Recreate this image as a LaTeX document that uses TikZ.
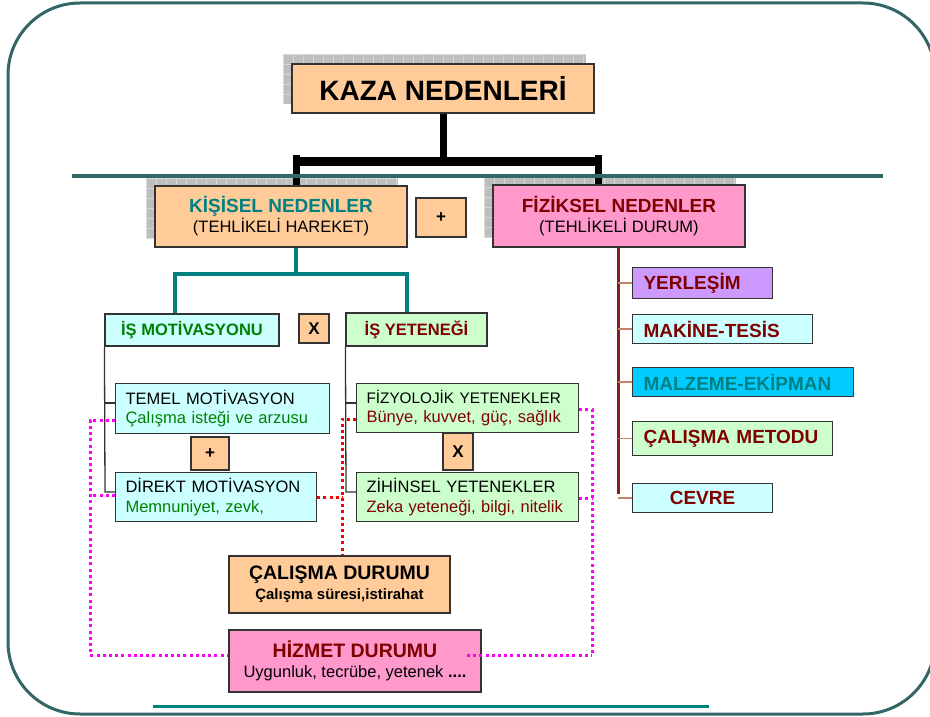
\documentclass[tikz,border=0pt]{standalone}
\usepackage{fontspec}
\setmainfont{Liberation Sans}
\usetikzlibrary{calc,backgrounds}
\hyphenpenalty=10000
\definecolor{cPeach}{HTML}{FFCC99}
\definecolor{cPink}{HTML}{FF99CC}
\definecolor{cCyanL}{HTML}{CCFFFF}
\definecolor{cGreenL}{HTML}{CCFFCC}
\definecolor{cLav}{HTML}{CC99FF}
\definecolor{cCyan}{HTML}{00CCFF}
\definecolor{cTeal}{HTML}{008080}
\definecolor{cDred}{HTML}{800000}
\definecolor{cGreen}{HTML}{008000}
\definecolor{cFrame}{HTML}{336666}
\definecolor{cLine}{HTML}{333333}
\definecolor{cShad}{HTML}{BEBEBE}
\definecolor{cGrid}{HTML}{D8D8D8}
\definecolor{cBranch}{HTML}{C8826A}
\definecolor{cVred}{HTML}{8B1A1A}
\definecolor{cMag}{HTML}{FF00FF}
\definecolor{cRed}{HTML}{FF0000}
\newcommand\shadrect[4]{%
  \begin{scope}
    \clip (#1,#2) rectangle (#3,#4);
    \fill[cShad] (#1,#2) rectangle (#3,#4);
    \foreach \gx in {0,10,...,320} \draw[cGrid,line width=0.8pt] ({#1+\gx},#2) -- ({#1+\gx},#4);
    \foreach \gy in {0,10,...,80} \draw[cGrid,line width=0.8pt] (#1,{#2+\gy}) -- (#3,{#2+\gy});
  \end{scope}}
\begin{document}
\begin{tikzpicture}[x=1pt,y=-1pt,
  box/.style={draw=cLine, line width=1.1pt, inner sep=0pt, align=center},
  rbox/.style={box, anchor=north west, align=left, inner xsep=11pt, text=cDred,
    font=\fontsize{19}{22}\selectfont\bfseries},
  lbox/.style={box, anchor=north west, align=left, inner xsep=10pt,
    font=\fontsize{16.5}{19.5}\selectfont},
  opbox/.style={box, fill=cPeach, font=\fontsize{17}{20}\selectfont\bfseries},
  mdot/.style={cMag, line width=3pt, dash pattern=on 3pt off 3.2pt},
  rdot/.style={cRed, line width=3pt, dash pattern=on 3pt off 3.2pt},
  tealline/.style={cTeal, line width=3.5pt},
  thinb/.style={cLine, line width=1.3pt},
]
\useasboundingbox (0,0) rectangle (930,717);

% ---------- nodes ----------
\node[box, fill=cPeach, minimum width=302, minimum height=49,
  font=\fontsize{28}{32}\selectfont\bfseries] (kaza) at (443,88.5) {KAZA NEDENLERİ};

\node[box, fill=cPeach, minimum width=252, minimum height=61,
  font=\fontsize{16.5}{20}\selectfont] (kis) at (281,216.5)
  {{\fontsize{19}{20}\selectfont\bfseries\textcolor{cTeal}{KİŞİSEL NEDENLER}}\\(TEHLİKELİ HAREKET)};
\node[opbox, minimum width=50, minimum height=39] (plus1) at (441,217.5) {+};
\node[box, fill=cPink, minimum width=252, minimum height=62,
  font=\fontsize{16.5}{20}\selectfont] (fiz) at (619,216)
  {{\fontsize{19}{20}\selectfont\bfseries\textcolor{cDred}{FİZİKSEL NEDENLER}}\\(TEHLİKELİ DURUM)};

\node[box, fill=cCyanL, minimum width=174, minimum height=32, text=cGreen,
  font=\fontsize{16.5}{20}\selectfont\bfseries] (mot) at (192,330) {İŞ MOTİVASYONU};
\node[opbox, minimum width=30, minimum height=29] (x1) at (314,328.5) {X};
\node[box, fill=cGreenL, minimum width=141, minimum height=33, text=cDred,
  font=\fontsize{16.5}{20}\selectfont\bfseries] (yet) at (416.5,329.5) {İŞ YETENEĞİ};

\node[lbox, fill=cCyanL, text width=194, minimum height=50] (temel) at (115,383)
  {TEMEL MOTİVASYON\\\textcolor{cGreen}{Çalışma isteği ve arzusu}};
\node[opbox, minimum width=38, minimum height=33] (plus2) at (210,453.5) {+};
\node[lbox, fill=cCyanL, text width=181, minimum height=49] (direkt) at (115,472)
  {DİREKT MOTİVASYON\\\textcolor{cGreen}{Memnuniyet, zevk,}};

\node[lbox, fill=cGreenL, text width=202, minimum height=49] (fizy) at (356,383)
  {{\fontsize{15.3}{19.5}\selectfont FİZYOLOJİK YETENEKLER}\\\textcolor{cDred}{Bünye, kuvvet, güç, sağlık}};
\node[opbox, minimum width=30, minimum height=37] (x2) at (458,451.5) {X};
\node[lbox, fill=cGreenL, text width=202, minimum height=49] (zih) at (356,472)
  {ZİHİNSEL YETENEKLER\\\textcolor{cDred}{Zeka yeteneği, bilgi, nitelik}};

\node[box, fill=cPeach, minimum width=221, minimum height=57,
  font=\fontsize{15}{20}\selectfont\bfseries] (cal) at (339.5,584.5)
  {{\fontsize{19.5}{20}\selectfont ÇALIŞMA DURUMU}\\Çalışma süresi,istirahat};
\node[box, fill=cPink, minimum width=252, minimum height=62,
  font=\fontsize{16.5}{20}\selectfont] (hiz) at (355,661)
  {{\fontsize{19.5}{20}\selectfont\bfseries\textcolor{cDred}{HİZMET DURUMU}}\\Uygunluk, tecrübe, yetenek \textbf{....}};

\node[rbox, fill=cLav, text width=118, minimum height=31] (yer) at (632,267) {YERLEŞİM};
\node[rbox, fill=cCyanL, text width=158, minimum height=29] (mak) at (632,314) {MAKİNE-TESİS};
\node[rbox, fill=cCyan, text width=199, minimum height=29, text=cTeal] (malz) at (632,367) {MALZEME-EKİPMAN};
\node[rbox, fill=cGreenL, text width=178, minimum height=34] (metod) at (632,421) {ÇALIŞMA METODU};
\node[rbox, fill=cCyanL, text width=118, minimum height=29, align=center] (cevre) at (632,483) {CEVRE};

% ---------- coordinates ----------
\coordinate (barL) at (296,161);
\coordinate (barR) at (598,161);
\coordinate (kt) at (296,274);
\coordinate (tl) at (175,274);
\coordinate (tr) at (407,274);
\coordinate (b1) at (105,403);
\coordinate (b2) at (105,492);
\coordinate (c1) at (346,403);
\coordinate (c2) at (346,492);
\coordinate (rv) at (618,494);
\coordinate (m1) at (90,420);
\coordinate (m2) at (90,495);
\coordinate (mL) at (90,655);
\coordinate (n1) at (592,409);
\coordinate (n2) at (592,498);
\coordinate (mR) at (592,655);
\coordinate (hzE) at (467,655);
\coordinate (r1) at (342,419);
\coordinate (r2) at (342,497);
\coordinate (r3) at (342,553);

% ---------- background layer ----------
\begin{pgfonlayer}{background}
  \draw[cFrame, line width=3pt, rounded corners=72pt] (8,3) rectangle (935,714);
  \shadrect{283}{54}{586}{104}
  \shadrect{146}{178}{398}{238}
  \shadrect{484}{177}{736}{238}
  % black tree
  \draw[black, line width=7pt] (kaza.south) -- (kaza.south |- barL);
  \draw[black, line width=9pt] ([xshift=-3.5pt]barL) -- ([xshift=3.5pt]barR);
  \draw[black, line width=7pt] ([yshift=6pt]barL) -- (barL |- kis.north);
  \draw[black, line width=7pt] ([yshift=6pt]barR) -- (barR |- fiz.north);
  % horizontal rules
  \draw[cFrame, line width=3.5pt] (72,176) -- (883,176);
  \draw[cTeal, line width=3pt] (153,706) -- (709,706);
  % teal tree
  \draw[tealline] (kis.south -| kt) -- (kt);
  \draw[tealline, line join=miter] (mot.north -| tl) -- (tl) -- (tr) -- (yet.north -| tr);
  % thin black branches
  \draw[thinb] (mot.south west) -- (b2) -- (b2 -| direkt.west);
  \draw[thinb] (b1) -- (b1 -| temel.west);
  \draw[thinb] (yet.south west) -- (c2) -- (c2 -| zih.west);
  \draw[thinb] (c1) -- (c1 -| fizy.west);
  % right tree
  \draw[cVred, line width=3pt] (fiz.south -| rv) -- (rv);
  \draw[cBranch, line width=1.6pt] (yer.west -| rv) -- (yer.west);
  \draw[cBranch, line width=1.6pt] (mak.west -| rv) -- (mak.west);
  \draw[cBranch, line width=1.6pt] (malz.west -| rv) -- (malz.west);
  \draw[cBranch, line width=1.6pt] (metod.west -| rv) -- (metod.west);
  \draw[cBranch, line width=1.6pt] (cevre.west -| rv) -- (cevre.west);
  % dotted links
  \draw[mdot] (m1 -| temel.west) -- (m1) -- (mL) -- (mL -| hiz.west);
  \draw[mdot] (m2 -| direkt.west) -- (m2);
  \draw[mdot] (n1 -| fizy.east) -- (n1) -- (mR);
  \draw[mdot] (n2 -| zih.east) -- (n2);
  \draw[rdot] (r1 -| fizy.west) -- (r1) -- (r3 |- cal.north);
  \draw[rdot] (r2 -| direkt.east) -- (r2);
\end{pgfonlayer}
\draw[mdot] (hzE) -- (mR);
\end{tikzpicture}
\end{document}
